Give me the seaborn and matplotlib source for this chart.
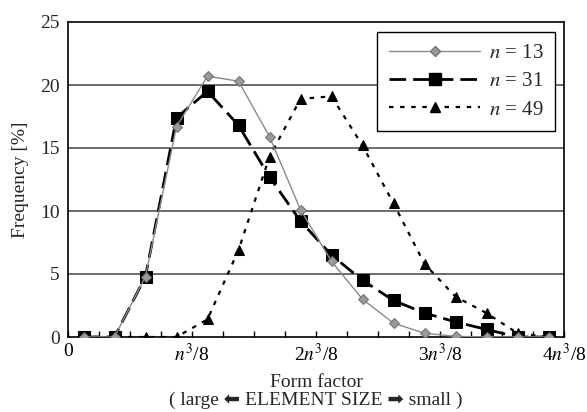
import matplotlib
matplotlib.use("Agg")
import matplotlib.pyplot as plt
import seaborn as sns
import numpy as np
import pandas as pd
from matplotlib.lines import Line2D

# Data (bin centres in units of n^3/8)
form_factor = [0.125, 0.375, 0.625, 0.875, 1.125, 1.375, 1.625, 1.875,
               2.125, 2.375, 2.625, 2.875, 3.125, 3.375, 3.625, 3.875]
freq_n13 = [0, 0, 4.8, 16.7, 20.7, 20.3, 15.9, 10.1, 6.0, 3.0, 1.1, 0.3, 0.05, 0, 0, 0]
freq_n31 = [0, 0, 4.8, 17.4, 19.5, 16.8, 12.7, 9.2, 6.5, 4.5, 2.9, 1.9, 1.2, 0.6, 0, 0]
freq_n49 = [0, 0, 0, 0, 1.4, 6.9, 14.3, 18.9, 19.1, 15.2, 10.6, 5.8, 3.2, 1.9, 0.3, 0]
series_labels = [r"$n$ = 13", r"$n$ = 31", r"$n$ = 49"]
xtick_pos = [0, 1, 2, 3, 4]
xtick_labels = ["0", r"$n^3$/8", r"2$n^3$/8", r"3$n^3$/8", r"4$n^3$/8"]
ytick_pos = [0, 5, 10, 15, 20, 25]

sns.set_theme(style="white")
plt.rcParams["font.family"] = ["Liberation Serif", "DejaVu Sans"]
plt.rcParams["mathtext.fontset"] = "stix"

fig = plt.figure(figsize=(5.87, 4.12), dpi=100)
ax = fig.add_axes([68/587, 1-337/412, (564-68)/587, (337-22)/412])

fs = 14

for yv in [5, 10, 15, 20]:
    ax.axhline(yv, color="#444444", lw=1.1, zorder=0)

styles = [
    dict(color="#8a8a8a", linestyle="-", linewidth=1.0, marker="D", markersize=5,
         markerfacecolor="#9a9a9a", markeredgecolor="#707070"),
    dict(color="black", linestyle=(0, (6, 2.5)), linewidth=2.0, marker="s", markersize=8,
         markerfacecolor="black", markeredgecolor="black"),
    dict(color="black", linestyle=(0, (2, 3)), linewidth=1.6, marker="^", markersize=7,
         markerfacecolor="black", markeredgecolor="black"),
]
data = [freq_n13, freq_n31, freq_n49]
order = [2, 1, 0]
for i in order:
    sns.lineplot(x=form_factor, y=data[i], ax=ax, zorder=3 + (2 - i), **styles[i])

ax.set_xlim(0, 4)
ax.set_ylim(0, 25)
ax.set_xticks(xtick_pos)
ax.set_xticklabels(xtick_labels, fontsize=fs)
ax.set_xticks(np.arange(0, 4.01, 0.25), minor=True)
ax.set_yticks(ytick_pos)
ax.set_yticklabels([str(v) for v in ytick_pos], fontsize=fs)
ax.tick_params(axis="x", which="both", direction="in", length=4, width=1, colors="black", pad=4,
               bottom=True)
ax.tick_params(axis="y", which="both", direction="in", length=0, pad=6, left=True)
for s in ax.spines.values():
    s.set_color("black")
    s.set_linewidth(1.2)

ax.set_ylabel("Frequency [%]", fontsize=fs, labelpad=8)
ax.set_xlabel("Form factor\n( large \u2b05 ELEMENT SIZE \u27a1 small )", fontsize=fs,
              labelpad=7, linespacing=1.05)

handles = [Line2D([0], [0], **styles[i]) for i in range(3)]
leg = ax.legend(handles, series_labels, loc="upper right",
                bbox_to_anchor=((555-68)/496, (337-32)/315), borderaxespad=0,
                fontsize=fs + 1, handlelength=4.4, markerscale=1.0, frameon=True,
                fancybox=False, edgecolor="black", framealpha=1, labelspacing=0.42,
                borderpad=0.55, handletextpad=0.4)
leg.get_frame().set_linewidth(1.0)

fig.savefig("out.png", dpi=100)
